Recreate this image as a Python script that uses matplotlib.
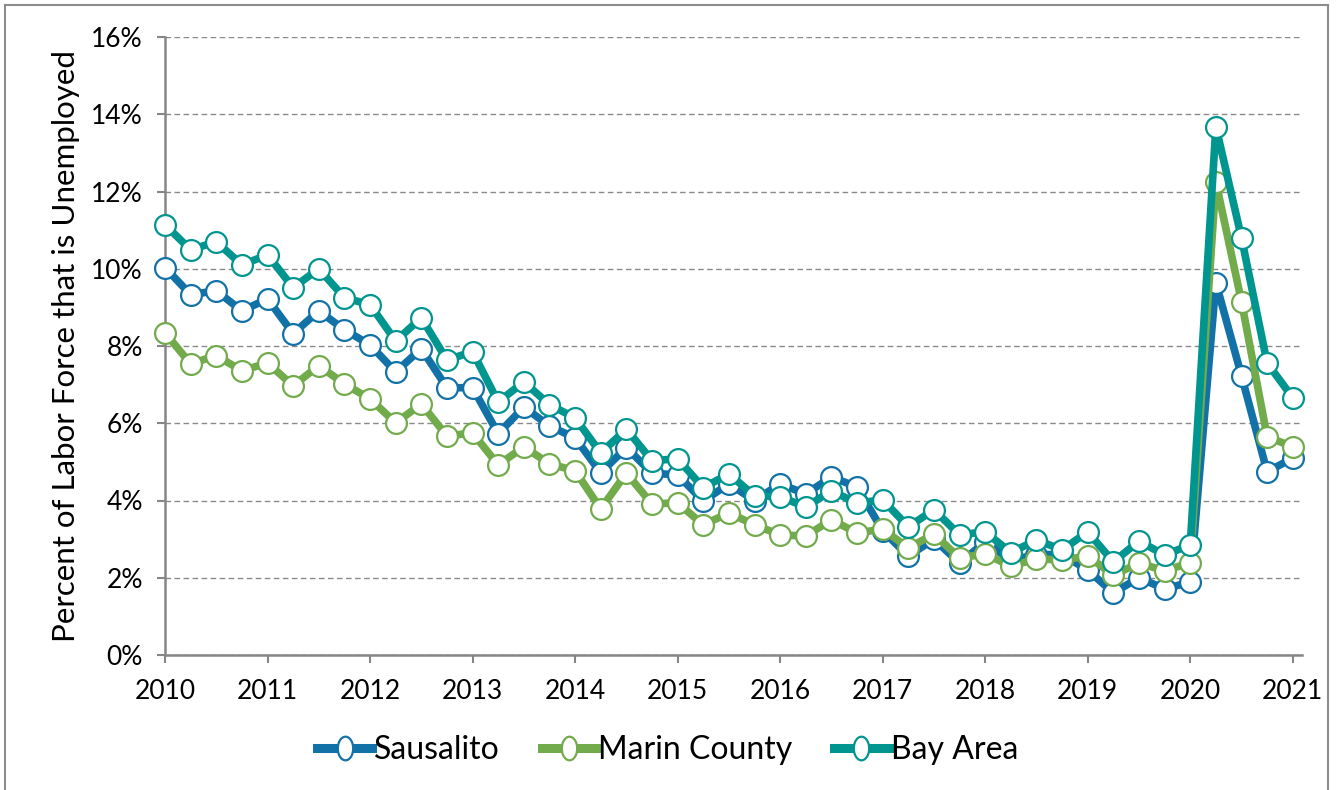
import numpy as np
import matplotlib
matplotlib.use("Agg")
import matplotlib.pyplot as plt
from matplotlib.lines import Line2D
from matplotlib.path import Path

# ---- data (quarterly, 2010 Q1 .. 2021 Q1) ----
start_year = 2010
year_ticks = list(range(2010, 2022))
sausalito = [10.03, 9.33, 9.43, 8.91, 9.22, 8.32, 8.91, 8.42, 8.03, 7.33,
             7.93, 6.92, 6.92, 5.73, 6.42, 5.93, 5.62, 4.72, 5.37, 4.71,
             4.66, 3.99, 4.43, 4.00, 4.43, 4.17, 4.61, 4.35, 3.22, 2.56,
             3.00, 2.38, 2.93, 2.45, 2.60, 2.60, 2.20, 1.61, 2.00, 1.71,
             1.89, 9.64, 7.23, 4.74, 5.10]
marin = [8.34, 7.54, 7.75, 7.36, 7.56, 6.97, 7.49, 7.02, 6.63, 6.01,
         6.50, 5.67, 5.75, 4.92, 5.39, 4.95, 4.77, 3.78, 4.71, 3.91,
         3.94, 3.37, 3.68, 3.37, 3.11, 3.08, 3.50, 3.16, 3.26, 2.77,
         3.13, 2.51, 2.62, 2.30, 2.49, 2.46, 2.56, 2.07, 2.38, 2.18,
         2.39, 12.25, 9.15, 5.65, 5.39]
bay_area = [11.14, 10.49, 10.70, 10.10, 10.36, 9.51, 10.00, 9.25, 9.07, 8.13,
            8.73, 7.64, 7.85, 6.55, 7.07, 6.48, 6.14, 5.23, 5.85, 5.03,
            5.08, 4.33, 4.69, 4.12, 4.10, 3.83, 4.25, 3.93, 4.02, 3.32,
            3.76, 3.11, 3.19, 2.65, 2.98, 2.72, 3.19, 2.41, 2.95, 2.59,
            2.85, 13.68, 10.80, 7.56, 6.66]
series_names = ["Sausalito", "Marin County", "Bay Area"]
y_ticks = [0, 2, 4, 6, 8, 10, 12, 14, 16]
y_label = "Percent of Labor Force that is Unemployed"

colors = ["#1272A8", "#72AB4C", "#00958F"]

plt.rcParams['font.family'] = ['Lato', 'DejaVu Sans']

fig = plt.figure(figsize=(13.36, 7.90), dpi=100)
ax = fig.add_axes([165/1336, 1 - 655/790, (1302-165)/1336, (655-37)/790])

x = start_year + np.arange(len(sausalito)) / 4.0
for vals, name, c in zip([sausalito, marin, bay_area], series_names, colors):
    ax.plot(x, vals, color=c, lw=5.5, marker='o', markersize=15,
            markerfacecolor='white', markeredgecolor=c, markeredgewidth=1.6,
            solid_joinstyle='round', label=name, clip_on=False, zorder=3)

ax.set_xlim(2010, 2021.09)
ax.set_ylim(0, 16)
ax.set_xticks(year_ticks)
ax.set_xticklabels([str(y) for y in year_ticks])
ax.set_yticks(y_ticks)
ax.set_yticklabels([f"{t}%" for t in y_ticks])

ax.grid(axis='y', color='#8A8A8A', lw=1.0, linestyle=(0, (4, 2.5)), zorder=0)
ax.set_axisbelow(True)
for s in ['top', 'right']:
    ax.spines[s].set_visible(False)
for s in ['left', 'bottom']:
    ax.spines[s].set_color('#868686')
    ax.spines[s].set_linewidth(1.8)
ax.tick_params(axis='both', colors='#868686', width=1.5, length=6,
               labelcolor='black', labelsize=19)
ax.tick_params(axis='x', pad=11)
ax.tick_params(axis='y', pad=10)
ax.set_ylabel(y_label, fontsize=22.5, labelpad=8)

# slightly oval legend marker
t = np.linspace(0, 2*np.pi, 61)
oval = Path(np.column_stack([0.65*np.cos(t), np.sin(t)]), closed=True)
handles = [Line2D([0], [0], color=c, lw=6.5, marker=oval, markersize=17,
                  markerfacecolor='white', markeredgecolor=c, markeredgewidth=1.6)
           for c in colors]
fig.legend(handles, series_names, loc='center', bbox_to_anchor=(0.5, 0.051),
           ncol=3, frameon=False, fontsize=23, handlelength=1.7,
           handletextpad=0.08, columnspacing=1.3)

# outer chart border
bc = '#8C8C8C'
fig.add_artist(Line2D([5/1336, 5/1336], [0, 1 - 5/790], color=bc, lw=1.5,
                      transform=fig.transFigure))
fig.add_artist(Line2D([5/1336, 1328/1336], [1 - 5/790, 1 - 5/790], color=bc, lw=1.5,
                      transform=fig.transFigure))
fig.add_artist(Line2D([1328/1336, 1328/1336], [0, 1 - 5/790], color=bc, lw=1.5,
                      transform=fig.transFigure))

fig.savefig("out.png", dpi=100)
